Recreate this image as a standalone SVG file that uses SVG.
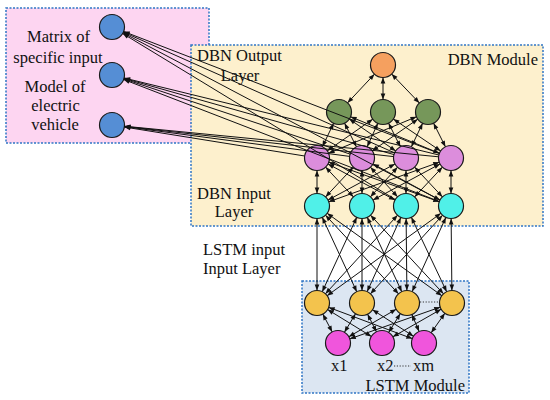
<svg xmlns="http://www.w3.org/2000/svg" width="550" height="400" viewBox="0 0 550 400">
<style>
.box{stroke:#2f75c5;stroke-width:1.5;stroke-dasharray:2 1.5}
.t{font-family:"Liberation Serif","Times New Roman",serif;font-size:16.5px;fill:#111}
.e{stroke:#111;stroke-width:1;fill:none;marker-start:url(#a);marker-end:url(#a)}
.l{stroke:#111;stroke-width:1;fill:none;marker-end:url(#t)}
.n{stroke:#1a1a1a;stroke-width:1.2}
.dots{stroke:#333;stroke-width:1.2;stroke-dasharray:1.2 1.6}
</style>
<defs>
<marker id="a" markerUnits="userSpaceOnUse" markerWidth="6" markerHeight="4.6" refX="18.5" refY="2.3" orient="auto-start-reverse" overflow="visible"><path d="M0,0 L6,2.3 L0,4.6 z" fill="#111"/></marker>
<marker id="t" markerUnits="userSpaceOnUse" markerWidth="6" markerHeight="4.6" refX="6" refY="2.3" orient="auto" overflow="visible"><path d="M0,0 L6,2.3 L0,4.6 z" fill="#111"/></marker>
</defs>
<rect width="550" height="400" fill="#fff"/>
<rect id="box-input" class="box" x="6" y="8" width="203" height="135" fill="#fdd5f1"/>
<rect id="box-dbn" class="box" x="191" y="45" width="352" height="181" fill="#fdf0cd"/>
<rect id="box-lstm" class="box" x="302" y="281" width="167" height="112" fill="#dce6f2"/>
<g id="labels">
<text class="t" x="58.5" y="42" text-anchor="middle">Matrix of</text>
<text class="t" x="58" y="63" text-anchor="middle">specific input</text>
<text class="t" x="55" y="92" text-anchor="middle">Model of</text>
<text class="t" x="55.5" y="111" text-anchor="middle">electric</text>
<text class="t" x="55" y="130" text-anchor="middle">vehicle</text>
<text class="t" x="197" y="61">DBN Output</text>
<text class="t" x="240" y="81" text-anchor="middle">Layer</text>
<text class="t" x="538" y="65" text-anchor="end">DBN Module</text>
<text class="t" x="197" y="199">DBN Input</text>
<text class="t" x="234" y="217" text-anchor="middle">Layer</text>
<text class="t" x="203" y="255">LSTM input</text>
<text class="t" x="203" y="274">Input Layer</text>
<text class="t" x="331" y="371">x1</text>
<text class="t" x="377" y="371">x2</text>
<text class="t" x="413" y="371">xm</text>
<text class="t" x="465" y="391" text-anchor="end">LSTM Module</text>
<line class="dots" x1="394" y1="366" x2="411" y2="366"/>
<line class="dots" x1="420" y1="302" x2="438" y2="302"/>
</g>
<g id="connectors">
<line class="e" x1="383" y1="65" x2="339" y2="112"/>
<line class="e" x1="383" y1="65" x2="383" y2="112"/>
<line class="e" x1="383" y1="65" x2="428" y2="112"/>
<line class="e" x1="339" y1="112" x2="317" y2="158"/>
<line class="e" x1="339" y1="112" x2="362" y2="158"/>
<line class="e" x1="339" y1="112" x2="406" y2="158"/>
<line class="e" x1="339" y1="112" x2="451" y2="158"/>
<line class="e" x1="383" y1="112" x2="317" y2="158"/>
<line class="e" x1="383" y1="112" x2="362" y2="158"/>
<line class="e" x1="383" y1="112" x2="406" y2="158"/>
<line class="e" x1="383" y1="112" x2="451" y2="158"/>
<line class="e" x1="428" y1="112" x2="317" y2="158"/>
<line class="e" x1="428" y1="112" x2="362" y2="158"/>
<line class="e" x1="428" y1="112" x2="406" y2="158"/>
<line class="e" x1="428" y1="112" x2="451" y2="158"/>
<line class="e" x1="317" y1="158" x2="317" y2="206"/>
<line class="e" x1="317" y1="158" x2="362" y2="206"/>
<line class="e" x1="317" y1="158" x2="406" y2="206"/>
<line class="e" x1="317" y1="158" x2="451" y2="206"/>
<line class="e" x1="362" y1="158" x2="317" y2="206"/>
<line class="e" x1="362" y1="158" x2="362" y2="206"/>
<line class="e" x1="362" y1="158" x2="406" y2="206"/>
<line class="e" x1="362" y1="158" x2="451" y2="206"/>
<line class="e" x1="406" y1="158" x2="317" y2="206"/>
<line class="e" x1="406" y1="158" x2="362" y2="206"/>
<line class="e" x1="406" y1="158" x2="406" y2="206"/>
<line class="e" x1="406" y1="158" x2="451" y2="206"/>
<line class="e" x1="451" y1="158" x2="317" y2="206"/>
<line class="e" x1="451" y1="158" x2="362" y2="206"/>
<line class="e" x1="451" y1="158" x2="406" y2="206"/>
<line class="e" x1="451" y1="158" x2="451" y2="206"/>
<line class="e" x1="317" y1="206" x2="317" y2="303"/>
<line class="e" x1="317" y1="206" x2="362" y2="303"/>
<line class="e" x1="317" y1="206" x2="407" y2="303"/>
<line class="e" x1="317" y1="206" x2="452" y2="303"/>
<line class="e" x1="362" y1="206" x2="317" y2="303"/>
<line class="e" x1="362" y1="206" x2="362" y2="303"/>
<line class="e" x1="362" y1="206" x2="407" y2="303"/>
<line class="e" x1="362" y1="206" x2="452" y2="303"/>
<line class="e" x1="406" y1="206" x2="317" y2="303"/>
<line class="e" x1="406" y1="206" x2="362" y2="303"/>
<line class="e" x1="406" y1="206" x2="407" y2="303"/>
<line class="e" x1="406" y1="206" x2="452" y2="303"/>
<line class="e" x1="451" y1="206" x2="317" y2="303"/>
<line class="e" x1="451" y1="206" x2="362" y2="303"/>
<line class="e" x1="451" y1="206" x2="407" y2="303"/>
<line class="e" x1="451" y1="206" x2="452" y2="303"/>
<line class="e" x1="317" y1="303" x2="338" y2="343"/>
<line class="e" x1="317" y1="303" x2="382" y2="343"/>
<line class="e" x1="317" y1="303" x2="424" y2="343"/>
<line class="e" x1="362" y1="303" x2="338" y2="343"/>
<line class="e" x1="362" y1="303" x2="382" y2="343"/>
<line class="e" x1="362" y1="303" x2="424" y2="343"/>
<line class="e" x1="407" y1="303" x2="338" y2="343"/>
<line class="e" x1="407" y1="303" x2="382" y2="343"/>
<line class="e" x1="407" y1="303" x2="424" y2="343"/>
<line class="e" x1="452" y1="303" x2="338" y2="343"/>
<line class="e" x1="452" y1="303" x2="382" y2="343"/>
<line class="e" x1="452" y1="303" x2="424" y2="343"/>
</g>
<g id="nodes">
<g id="in1"><circle class="n" cx="112" cy="27" r="12.5" fill="#558ed5"/></g>
<g id="in2"><circle class="n" cx="112" cy="75" r="12.5" fill="#558ed5"/></g>
<g id="in3"><circle class="n" cx="112" cy="125" r="12.5" fill="#558ed5"/></g>
<g id="out"><circle class="n" cx="383" cy="65" r="12.5" fill="#f5a05f"/></g>
<g id="g1"><circle class="n" cx="339" cy="112" r="12.5" fill="#76975a"/></g>
<g id="g2"><circle class="n" cx="383" cy="112" r="12.5" fill="#76975a"/></g>
<g id="g3"><circle class="n" cx="428" cy="112" r="12.5" fill="#76975a"/></g>
<g id="v1"><circle class="n" cx="317" cy="158" r="12.5" fill="#dc8ddc"/></g>
<g id="v2"><circle class="n" cx="362" cy="158" r="12.5" fill="#dc8ddc"/></g>
<g id="v3"><circle class="n" cx="406" cy="158" r="12.5" fill="#dc8ddc"/></g>
<g id="v4"><circle class="n" cx="451" cy="158" r="12.5" fill="#dc8ddc"/></g>
<g id="c1"><circle class="n" cx="317" cy="206" r="12.5" fill="#50f0e8"/></g>
<g id="c2"><circle class="n" cx="362" cy="206" r="12.5" fill="#50f0e8"/></g>
<g id="c3"><circle class="n" cx="406" cy="206" r="12.5" fill="#50f0e8"/></g>
<g id="c4"><circle class="n" cx="451" cy="206" r="12.5" fill="#50f0e8"/></g>
<g id="y1"><circle class="n" cx="317" cy="303" r="12.5" fill="#f3c34d"/></g>
<g id="y2"><circle class="n" cx="362" cy="303" r="12.5" fill="#f3c34d"/></g>
<g id="y3"><circle class="n" cx="407" cy="303" r="12.5" fill="#f3c34d"/></g>
<g id="y4"><circle class="n" cx="452" cy="303" r="12.5" fill="#f3c34d"/></g>
<g id="m1"><circle class="n" cx="338" cy="343" r="12.5" fill="#f055dc"/></g>
<g id="m2"><circle class="n" cx="382" cy="343" r="12.5" fill="#f055dc"/></g>
<g id="m3"><circle class="n" cx="424" cy="343" r="12.5" fill="#f055dc"/></g>
</g>
<g id="feedback-connectors">
<line class="l" x1="394.6" y1="152.9" x2="123.4" y2="32.1"/>
<line class="l" x1="439.3" y1="153.5" x2="123.7" y2="31.5"/>
<line class="l" x1="395.3" y1="199.5" x2="122.7" y2="33.5"/>
<line class="l" x1="440.0" y1="200.2" x2="123.1" y2="32.8"/>
<line class="l" x1="350.1" y1="154.1" x2="123.9" y2="78.9"/>
<line class="l" x1="394.0" y1="154.6" x2="124.0" y2="78.4"/>
<line class="l" x1="438.9" y1="155.0" x2="124.1" y2="78.0"/>
<line class="l" x1="439.3" y1="201.5" x2="123.7" y2="79.5"/>
<line class="l" x1="304.7" y1="156.0" x2="124.3" y2="127.0"/>
<line class="l" x1="349.6" y1="156.4" x2="124.4" y2="126.6"/>
<line class="l" x1="393.6" y1="156.6" x2="124.4" y2="126.4"/>
<line class="l" x1="438.6" y1="156.8" x2="124.4" y2="126.2"/>
</g>
</svg>
